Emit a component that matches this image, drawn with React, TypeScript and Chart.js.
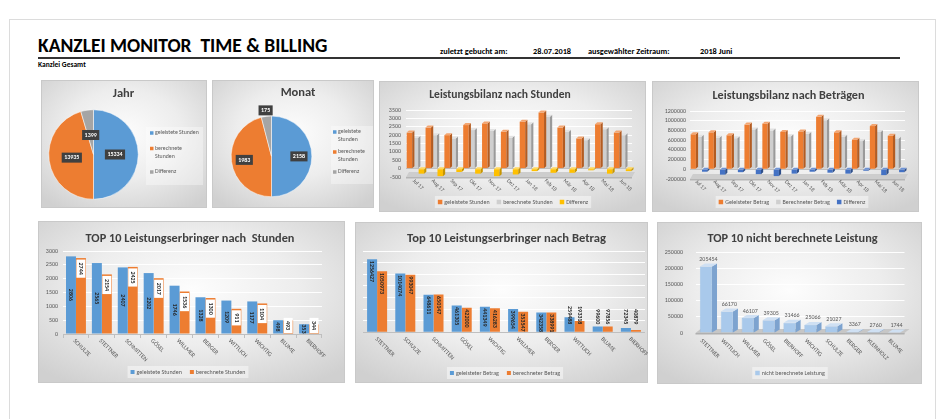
import React, { useEffect, useRef } from "react";
import { Chart, registerables } from "chart.js";
Chart.register(...registerables);

const FONT = "Carlito, Lato, 'Liberation Sans', sans-serif";
const TXT = "#595959";
const TITLE_C = "#404040";

// ---------------- data ----------------
const pieLabels = ["geleistete Stunden", "berechnete Stunden", "Differenz"];
const jahrValues = [15334, 13935, 1399];
const monatValues = [2158, 1983, 175];

const months = ["Jul 17", "Aug 17", "Sep 17", "Okt 17", "Nov 17", "Dez 17", "Jan 18", "Feb 18", "Mär 18", "Apr 18", "Mai 18", "Jun 18"];
const stundenGeleistet = [2150, 2450, 2000, 2600, 2700, 2200, 2800, 3350, 2450, 1800, 2650, 2150];
const stundenBerechnet = [1850, 2000, 1800, 2300, 2250, 1850, 2650, 3100, 2200, 1700, 2350, 2000];
const stundenDifferenz = [-300, -450, -200, -300, -450, -350, -150, -250, -250, -100, -300, -150];

const betragGeleistet = [720000, 760000, 700000, 920000, 940000, 770000, 780000, 1080000, 760000, 610000, 890000, 690000];
const betragBerechnet = [670000, 650000, 640000, 820000, 800000, 680000, 730000, 1010000, 670000, 580000, 770000, 630000];
const betragDifferenz = [-50000, -110000, -60000, -100000, -140000, -90000, -50000, -70000, -90000, -30000, -120000, -60000];

const topStundenNames = ["SCHULZE", "STETTNER", "SCHMITTEN", "GÖSEL", "WILLMER", "BERGER", "WITTLICH", "WICHTIG", "BLUME", "BIERHOFF"];
const topStundenGeleistet = [2806, 2565, 2407, 2202, 1746, 1328, 1209, 1177, 498, 353];
const topStundenBerechnet = [2744, 2154, 2425, 2017, 1536, 1300, 911, 1104, 493, 344];

const topBetragNames = ["STETTNER", "SCHULZE", "SCHMITTEN", "GÖSEL", "WICHTIG", "WILLMER", "BERGER", "WITTLICH", "BLUME", "BIERHOFF"];
const topBetragGeleistet = [1256427, 1014074, 648611, 461305, 441349, 399654, 342358, 259488, 99600, 72345];
const topBetragBerechnet = [1050973, 993047, 650147, 422000, 416283, 353547, 338991, 193318, 97856, 40879];

const nbNames = ["STETTNER", "WITTLICH", "WILLMER", "GÖSEL", "BIERHOFF", "WICHTIG", "SCHULZE", "BERGER", "KLEINHOLZ", "BLUME"];
const nbValues = [205454, 66170, 46107, 39305, 31466, 25066, 21027, 3367, 2760, 1744];

// ---------------- colours ----------------
const BLUE = "#5B9BD5";
const ORANGE = "#ED7D31";
const GRAY = "#A5A5A5";
const YELLOW = "#FFC000";
const DBLUE = "#4472C4";
const LGRAY = "#CFCFCF";
const LBLUE = "#A9C9EB";
const GRID_WHITE = "rgba(255,255,255,0.95)";
const AXIS_GRAY = "#bfbfbf";

// ---------------- plugins ----------------
function wrapText(ctx: any, text: string, maxW: number) {
  if (!maxW) return [text];
  const words = text.split(" ");
  const lines: string[] = [];
  let cur = "";
  words.forEach((w) => {
    const test = cur ? cur + " " + w : w;
    if (cur && ctx.measureText(test).width > maxW) {
      lines.push(cur);
      cur = w;
    } else cur = test;
  });
  if (cur) lines.push(cur);
  return lines;
}

const panelTitle = {
  id: "panelTitle",
  afterDraw(chart: any, _a: any, o: any) {
    const ctx = chart.ctx;
    ctx.save();
    ctx.font = `bold ${o.size}px ${FONT}`;
    ctx.fillStyle = TITLE_C;
    ctx.textAlign = "center";
    ctx.textBaseline = "middle";
    ctx.fillText(o.text, o.x, o.y);
    ctx.restore();
  },
};

const miniLegend = {
  id: "miniLegend",
  afterDraw(chart: any, _a: any, o: any) {
    const ctx = chart.ctx;
    let items: any[];
    if (o.fromLabels) {
      const ds = chart.data.datasets[0];
      items = chart.data.labels.map((t: string, i: number) => ({ text: t, color: ds.backgroundColor[i] }));
    } else {
      items = chart.data.datasets.map((ds: any) => ({ text: ds.label, color: ds.backgroundColor }));
    }
    ctx.save();
    ctx.font = `${o.size}px ${FONT}`;
    ctx.textBaseline = "middle";
    ctx.textAlign = "left";
    if (o.mode === "row") {
      const ws = items.map((it) => o.box + o.textGap + ctx.measureText(it.text).width);
      const total = ws.reduce((a: number, b: number) => a + b, 0) + o.gap * (items.length - 1);
      let x = o.x - total / 2;
      if (o.bg) {
        ctx.fillStyle = o.bg;
        ctx.fillRect(x - o.pad, o.y - o.size / 2 - o.pad, total + 2 * o.pad, o.size + 2 * o.pad);
      }
      items.forEach((it, i) => {
        ctx.fillStyle = it.color;
        ctx.fillRect(x, o.y - o.box / 2, o.box, o.box);
        ctx.fillStyle = TXT;
        ctx.fillText(it.text, x + o.box + o.textGap, o.y);
        x += ws[i] + o.gap;
      });
    } else {
      if (o.bgRect) {
        ctx.fillStyle = o.bg;
        ctx.fillRect(o.bgRect[0], o.bgRect[1], o.bgRect[2], o.bgRect[3]);
      }
      let y = o.y;
      items.forEach((it) => {
        const lines = wrapText(ctx, it.text, o.maxW);
        ctx.fillStyle = it.color;
        ctx.fillRect(o.x, y - o.box / 2, o.box, o.box);
        ctx.fillStyle = TXT;
        lines.forEach((ln: string, k: number) => ctx.fillText(ln, o.x + o.box + o.textGap, y + k * o.lineH));
        y += lines.length * o.lineH + o.itemGap;
      });
    }
    ctx.restore();
  },
};

const pieValueLabels = {
  id: "pieValueLabels",
  afterDatasetsDraw(chart: any, _a: any, o: any) {
    const ctx = chart.ctx;
    const meta = chart.getDatasetMeta(0);
    const vals = chart.data.datasets[0].data;
    ctx.save();
    ctx.font = `bold ${o.size}px ${FONT}`;
    ctx.textAlign = "center";
    ctx.textBaseline = "middle";
    meta.data.forEach((arc: any, i: number) => {
      const p = arc.getProps(["startAngle", "endAngle", "outerRadius", "x", "y"], true);
      const mid = (p.startAngle + p.endAngle) / 2;
      const f = o.radii[i];
      const cx = p.x + Math.cos(mid) * p.outerRadius * f;
      const cy = p.y + Math.sin(mid) * p.outerRadius * f;
      const txt = String(vals[i]);
      const w = ctx.measureText(txt).width + 5;
      const h = o.size + 4;
      ctx.fillStyle = "#404040";
      ctx.fillRect(cx - w / 2, cy - h / 2, w, h);
      ctx.fillStyle = "#ffffff";
      ctx.fillText(txt, cx, cy + 0.3);
    });
    ctx.restore();
  },
};

const bar3d = {
  id: "bar3d",
  afterDatasetDraw(chart: any, args: any, o: any) {
    const ctx = chart.ctx;
    const i = args.index;
    const side = o.side[i];
    const top = o.top[i];
    const dx = o.dx;
    const dy = o.dy;
    ctx.save();
    args.meta.data.forEach((el: any) => {
      const p = el.getProps(["x", "y", "base", "width"], true);
      const l = p.x - p.width / 2;
      const r = p.x + p.width / 2;
      const t = Math.min(p.y, p.base);
      const b = Math.max(p.y, p.base);
      ctx.fillStyle = side;
      ctx.beginPath();
      ctx.moveTo(r, t);
      ctx.lineTo(r + dx, t - dy);
      ctx.lineTo(r + dx, b - dy);
      ctx.lineTo(r, b);
      ctx.closePath();
      ctx.fill();
      ctx.fillStyle = top;
      ctx.beginPath();
      ctx.moveTo(l, t);
      ctx.lineTo(l + dx, t - dy);
      ctx.lineTo(r + dx, t - dy);
      ctx.lineTo(r, t);
      ctx.closePath();
      ctx.fill();
    });
    ctx.restore();
  },
};

const floor3d = {
  id: "floor3d",
  beforeDatasetsDraw(chart: any, _a: any, o: any) {
    const ctx = chart.ctx;
    const { left, right, bottom } = chart.chartArea;
    ctx.save();
    ctx.fillStyle = o.color;
    ctx.beginPath();
    ctx.moveTo(left, bottom);
    ctx.lineTo(right, bottom);
    ctx.lineTo(right + o.dx, bottom - o.dy);
    ctx.lineTo(left + o.dx, bottom - o.dy);
    ctx.closePath();
    ctx.fill();
    ctx.fillStyle = o.edge;
    ctx.fillRect(left, bottom, right - left, 1.5);
    ctx.restore();
  },
};

const rotLabels = {
  id: "rotLabels",
  afterDraw(chart: any, _a: any, o: any) {
    const ctx = chart.ctx;
    const sc = chart.scales.x;
    ctx.save();
    ctx.font = `${o.size}px ${FONT}`;
    ctx.fillStyle = TXT;
    ctx.textAlign = "left";
    ctx.textBaseline = "middle";
    chart.data.labels.forEach((lab: string, i: number) => {
      const x = sc.getPixelForValue(i) + o.dx;
      const y = sc.top + o.dy;
      ctx.save();
      ctx.translate(x, y);
      ctx.rotate(Math.PI / 4);
      ctx.fillText(lab, 0, 0);
      ctx.restore();
    });
    ctx.restore();
  },
};

const barValueLabels = {
  id: "barValueLabels",
  afterDatasetsDraw(chart: any, _a: any, o: any) {
    const ctx = chart.ctx;
    ctx.save();
    ctx.font = `${o.bold ? "bold " : ""}${o.size}px ${FONT}`;
    ctx.textBaseline = "middle";
    ctx.textAlign = "center";
    o.modes.forEach((mode: string, di: number) => {
      if (!mode) return;
      const meta = chart.getDatasetMeta(di);
      const vals = chart.data.datasets[di].data;
      meta.data.forEach((el: any, j: number) => {
        const p = el.getProps(["x", "y", "base", "width"], true);
        const txt = String(vals[j]);
        const len = ctx.measureText(txt).width;
        const h = p.base - p.y;
        if (mode === "above") {
          ctx.fillStyle = o.color;
          ctx.fillText(txt, p.x + o.dx, p.y - o.dy);
          return;
        }
        let cy = (p.y + p.base) / 2;
        if (mode === "end") {
          cy = len - 2 <= h ? p.y + 1.5 + len / 2 : p.base - 7.5 - len / 2;
        } else if (mode === "box") {
          const L = len + 6;
          let t = p.y + 1.5;
          if (t + L > p.base - 0.5) t = p.base - 0.5 - L;
          ctx.fillStyle = "#ffffff";
          ctx.fillRect(p.x - p.width / 2 + 0.5, t, p.width - 1, L);
          cy = t + L / 2;
        }
        ctx.fillStyle = o.color;
        ctx.save();
        ctx.translate(p.x, cy);
        ctx.rotate(Math.PI / 2);
        ctx.fillText(txt, 0, 0.3);
        ctx.restore();
      });
    });
    ctx.restore();
  },
};

// ---------------- scale helpers ----------------
function yScale(o: any) {
  return {
    type: "linear",
    min: o.min,
    max: o.max,
    afterFit: (s: any) => {
      s.width = o.L;
    },
    border: { display: false },
    grid: {
      drawTicks: false,
      color: (c: any) => (c.tick && c.tick.value === 0 ? AXIS_GRAY : GRID_WHITE),
      lineWidth: 1,
    },
    ticks: {
      display: o.show,
      stepSize: o.step,
      autoSkip: false,
      padding: o.pad,
      color: TXT,
      font: { family: FONT, size: 6 },
      callback: (v: any) => String(v),
    },
  };
}

function xScale(o: any) {
  return {
    type: "category",
    afterFit: (s: any) => {
      s.height = o.h;
    },
    border: { display: false },
    grid: {
      display: !!o.tickMarks,
      drawOnChartArea: false,
      drawTicks: true,
      tickLength: 4,
      color: AXIS_GRAY,
      offset: true,
    },
    ticks: { display: false, autoSkip: false },
  };
}

const baseOpts = {
  responsive: false,
  animation: false,
  events: [],
};

const noBuiltins = { legend: { display: false }, tooltip: { enabled: false }, title: { display: false } };

// ---------------- chart configs ----------------
const cfgJahr = () => ({
  type: "pie",
  data: { labels: pieLabels, datasets: [{ data: jahrValues, backgroundColor: [BLUE, ORANGE, GRAY], borderColor: "#ffffff", borderWidth: 0.5 }] },
  options: {
    ...baseOpts,
    layout: { padding: { left: 7.5, top: 29.5, right: 68.5, bottom: 8.5 } },
    plugins: {
      ...noBuiltins,
      panelTitle: { text: "Jahr", x: 82.5, y: 14, size: 12.5 },
      pieValueLabels: { radii: [0.48, 0.49, 0.44], size: 6 },
      miniLegend: { mode: "column", fromLabels: true, x: 109, y: 53, size: 5.8, box: 3.5, textGap: 1.5, lineH: 8, itemGap: 7.5, maxW: 46, bgRect: [105, 47, 57, 58], bg: "rgba(255,255,255,0.35)" },
    },
  },
  plugins: [panelTitle, pieValueLabels, miniLegend],
});

const cfgMonat = () => ({
  type: "pie",
  data: { labels: pieLabels, datasets: [{ data: monatValues, backgroundColor: [BLUE, ORANGE, GRAY], borderColor: "#ffffff", borderWidth: 0.5 }] },
  options: {
    ...baseOpts,
    layout: { padding: { left: 18.9, top: 35.8, right: 61.9, bottom: 11 } },
    plugins: {
      ...noBuiltins,
      panelTitle: { text: "Monat", x: 86, y: 13, size: 12.5 },
      pieValueLabels: { radii: [0.68, 0.68, 1.15], size: 6 },
      miniLegend: { mode: "column", fromLabels: true, x: 121, y: 52, size: 5.8, box: 3.5, textGap: 1.5, lineH: 8, itemGap: 4, maxW: 34, bgRect: [119, 46, 42, 58], bg: "rgba(255,255,255,0.35)" },
    },
  },
  plugins: [panelTitle, pieValueLabels, miniLegend],
});

const cfgBilanzStunden = () => ({
  type: "bar",
  data: {
    labels: months,
    datasets: [
      { label: "geleistete Stunden", data: stundenGeleistet, backgroundColor: ORANGE },
      { label: "berechnete Stunden", data: stundenBerechnet, backgroundColor: LGRAY },
      { label: "Differenz", data: stundenDifferenz, backgroundColor: YELLOW },
    ],
  },
  options: {
    ...baseOpts,
    layout: { padding: { left: 0, top: 29, right: 14, bottom: 0 } },
    datasets: { bar: { categoryPercentage: 0.95, barPercentage: 0.92 } },
    scales: { x: xScale({ h: 35 }), y: yScale({ L: 27, min: -500, max: 3500, step: 500, pad: 5, show: true }) },
    plugins: {
      ...noBuiltins,
      panelTitle: { text: "Leistungsbilanz nach Stunden", x: 121, y: 14, size: 11.6 },
      bar3d: { dx: 2.2, dy: 2, side: ["#B35C22", "#9A9A9A", "#C79500"], top: ["#F3A570", "#E2E2E2", "#FFD75E"] },
      floor3d: { dx: 3, dy: 5, color: "#cdcdcd", edge: "#b5b5b5" },
      rotLabels: { size: 5.5, dx: -2, dy: 3 },
      miniLegend: { mode: "row", x: 134, y: 121, size: 6, box: 4.5, textGap: 2, gap: 7, pad: 3, bg: "rgba(255,255,255,0.45)" },
    },
  },
  plugins: [panelTitle, floor3d, bar3d, rotLabels, miniLegend],
});

const cfgBilanzBetrag = () => ({
  type: "bar",
  data: {
    labels: months,
    datasets: [
      { label: "Geleisteter Betrag", data: betragGeleistet, backgroundColor: ORANGE },
      { label: "Berechneter Betrag", data: betragBerechnet, backgroundColor: LGRAY },
      { label: "Differenz", data: betragDifferenz, backgroundColor: DBLUE },
    ],
  },
  options: {
    ...baseOpts,
    layout: { padding: { left: 0, top: 30, right: 14, bottom: 0 } },
    datasets: { bar: { categoryPercentage: 0.95, barPercentage: 0.92 } },
    scales: { x: xScale({ h: 33 }), y: yScale({ L: 38, min: -200000, max: 1200000, step: 200000, pad: 4, show: true }) },
    plugins: {
      ...noBuiltins,
      panelTitle: { text: "Leistungsbilanz nach Beträgen", x: 136.5, y: 15, size: 12.2 },
      bar3d: { dx: 2.2, dy: 2, side: ["#B35C22", "#9A9A9A", "#2E4F8A"], top: ["#F3A570", "#E2E2E2", "#6E93D6"] },
      floor3d: { dx: 3, dy: 5, color: "#cdcdcd", edge: "#b5b5b5" },
      rotLabels: { size: 5.5, dx: -3, dy: 2 },
      miniLegend: { mode: "row", x: 140, y: 121, size: 6, box: 4.5, textGap: 2, gap: 7, pad: 3, bg: "rgba(255,255,255,0.45)" },
    },
  },
  plugins: [panelTitle, floor3d, bar3d, rotLabels, miniLegend],
});

const cfgTopStunden = () => ({
  type: "bar",
  data: {
    labels: topStundenNames,
    datasets: [
      { label: "geleistete Stunden", data: topStundenGeleistet, backgroundColor: BLUE },
      { label: "berechnete Stunden", data: topStundenBerechnet, backgroundColor: ORANGE },
    ],
  },
  options: {
    ...baseOpts,
    layout: { padding: { left: 0, top: 30, right: 23, bottom: 0 } },
    datasets: { bar: { categoryPercentage: 0.77, barPercentage: 1 } },
    scales: { x: xScale({ h: 49, tickMarks: true }), y: yScale({ L: 25, min: 0, max: 3000, step: 500, pad: 5, show: true }) },
    plugins: {
      ...noBuiltins,
      panelTitle: { text: "TOP 10 Leistungserbringer nach  Stunden", x: 152, y: 18, size: 12.3 },
      barValueLabels: { modes: ["center", "box"], size: 6, bold: true, color: "#262626" },
      rotLabels: { size: 6, dx: -2, dy: 6 },
      miniLegend: { mode: "row", x: 150, y: 151, size: 6, box: 4, textGap: 2, gap: 8, pad: 3, bg: "rgba(255,255,255,0.45)" },
    },
  },
  plugins: [panelTitle, barValueLabels, rotLabels, miniLegend],
});

const cfgTopBetrag = () => ({
  type: "bar",
  data: {
    labels: topBetragNames,
    datasets: [
      { label: "geleisteter Betrag", data: topBetragGeleistet, backgroundColor: BLUE },
      { label: "berechneter Betrag", data: topBetragBerechnet, backgroundColor: ORANGE },
    ],
  },
  options: {
    ...baseOpts,
    layout: { padding: { left: 0, top: 29, right: 3, bottom: 0 } },
    datasets: { bar: { categoryPercentage: 0.71, barPercentage: 1 } },
    scales: { x: xScale({ h: 50.7 }), y: yScale({ L: 8, min: 0, max: 1400000, step: 200000, pad: 0, show: false }) },
    plugins: {
      ...noBuiltins,
      panelTitle: { text: "Top 10 Leistungserbringer nach Betrag", x: 151.5, y: 17, size: 12.6 },
      barValueLabels: { modes: ["end", "end"], size: 6, bold: true, color: "#262626" },
      rotLabels: { size: 6, dx: -1, dy: 6 },
      miniLegend: { mode: "row", x: 150, y: 151, size: 6, box: 4, textGap: 2, gap: 8, pad: 3, bg: "rgba(255,255,255,0.45)" },
    },
  },
  plugins: [panelTitle, barValueLabels, rotLabels, miniLegend],
});

const cfgNichtBerechnet = () => ({
  type: "bar",
  data: {
    labels: nbNames,
    datasets: [{ label: "nicht berechnete Leistung", data: nbValues, backgroundColor: LBLUE, borderColor: "#7FAEDD", borderWidth: 0.5 }],
  },
  options: {
    ...baseOpts,
    layout: { padding: { left: 0, top: 30, right: 17.5, bottom: 0 } },
    datasets: { bar: { categoryPercentage: 1, barPercentage: 0.58 } },
    scales: { x: xScale({ h: 51 }), y: yScale({ L: 38.5, min: 0, max: 250000, step: 50000, pad: 12.5, show: true }) },
    plugins: {
      ...noBuiltins,
      panelTitle: { text: "TOP 10 nicht berechnete Leistung", x: 135.5, y: 17, size: 12.3 },
      bar3d: { dx: 5, dy: 3, side: ["#7DA3CF"], top: ["#CFE0F3"] },
      floor3d: { dx: 5, dy: 4, color: "#c6c6c6", edge: "#b0b0b0" },
      barValueLabels: { modes: ["above"], size: 6, bold: false, color: TXT, dx: 2.5, dy: 7 },
      rotLabels: { size: 6, dx: -5, dy: 7 },
      miniLegend: { mode: "row", x: 133, y: 151, size: 6, box: 4.5, textGap: 2, gap: 8, pad: 3, bg: "rgba(255,255,255,0.45)" },
    },
  },
  plugins: [panelTitle, floor3d, bar3d, barValueLabels, rotLabels, miniLegend],
});

// ---------------- components ----------------
const PANEL_BG = "radial-gradient(ellipse 70% 70% at 50% 42%, #fdfdfd 0%, #ededed 50%, #d0d0d0 100%)";

function ChartPanel(props: { left: number; top: number; width: number; height: number; config: () => any }) {
  const ref = useRef<HTMLCanvasElement>(null);
  useEffect(() => {
    const chart = new Chart(ref.current as HTMLCanvasElement, props.config());
    return () => chart.destroy();
  }, []);
  return (
    <div
      style={{
        position: "absolute",
        left: props.left,
        top: props.top,
        width: props.width,
        height: props.height,
        background: PANEL_BG,
        boxShadow: "inset 0 0 0 1px #c9c9c9",
      }}
    >
      <canvas
        ref={ref}
        width={props.width}
        height={props.height}
        style={{ position: "absolute", left: 0, top: 0, width: props.width, height: props.height }}
      />
    </div>
  );
}

function Txt(props: { x: number; y: number; size: number; bold?: boolean; children: any }) {
  return (
    <div
      style={{
        position: "absolute",
        left: props.x,
        top: props.y - props.size / 2,
        fontSize: props.size,
        lineHeight: props.size + "px",
        fontWeight: props.bold ? 700 : 400,
        whiteSpace: "nowrap",
        color: "#000",
        fontFamily: FONT,
      }}
    >
      {props.children}
    </div>
  );
}

export default function App() {
  return (
    <div style={{ position: "absolute", left: 0, top: 0, width: 950, height: 419, background: "#fff", overflow: "hidden", fontFamily: FONT }}>
      <div style={{ position: "absolute", left: 9, top: 19, width: 927, height: 420, border: "1px solid #dcdcdc", boxSizing: "border-box" }} />
      <Txt x={38} y={45.5} size={19.5} bold>
        KANZLEI MONITOR&nbsp;&nbsp;TIME &amp; BILLING
      </Txt>
      <Txt x={440} y={51} size={8.3} bold>zuletzt gebucht am:</Txt>
      <Txt x={533} y={51} size={8.3} bold>28.07.2018</Txt>
      <Txt x={588} y={51} size={8.3} bold>ausgewählter Zeitraum:</Txt>
      <Txt x={700} y={51} size={8.3} bold>2018 Juni</Txt>
      <div style={{ position: "absolute", left: 38, top: 57, width: 862, height: 1.5, background: "#333" }} />
      <Txt x={38} y={64.5} size={7.5} bold>Kanzlei Gesamt</Txt>

      <ChartPanel left={41} top={80} width={166} height={128} config={cfgJahr} />
      <ChartPanel left={212} top={80} width={162} height={128} config={cfgMonat} />
      <ChartPanel left={379} top={81} width={267} height={131} config={cfgBilanzStunden} />
      <ChartPanel left={652} top={81} width={267} height={131} config={cfgBilanzBetrag} />
      <ChartPanel left={38} top={221} width={307} height={162} config={cfgTopStunden} />
      <ChartPanel left={355} top={222} width={293} height={161} config={cfgTopBetrag} />
      <ChartPanel left={657} top={222} width={265} height={162} config={cfgNichtBerechnet} />
    </div>
  );
}
